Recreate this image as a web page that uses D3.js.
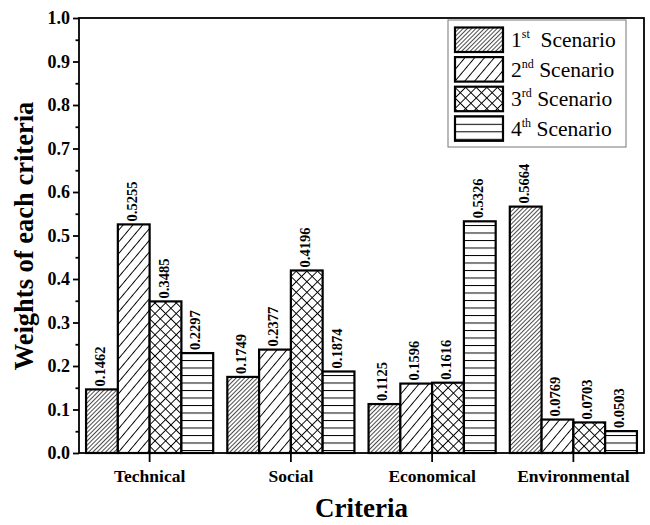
<html>
  <head>
    <meta charset="utf-8">
    <title>Weights of each criteria</title>
    <script src="https://cdn.jsdelivr.net/npm/d3@7"></script>
    <style>
      body { margin: 0; background: #fff; }
      svg text { font-family: "Liberation Serif", "Times New Roman", serif; fill: #000; }
    </style>
  </head>
  <body>
    <svg id="chart" width="650" height="525"></svg>
    <script>
      var criteria = ['Technical', 'Social', 'Economical', 'Environmental'];
      var scenarios = ['1st', '2nd', '3rd', '4th'];
      var scenario1 = [0.1462, 0.1749, 0.1125, 0.5664];
      var scenario2 = [0.5255, 0.2377, 0.1596, 0.0769];
      var scenario3 = [0.3485, 0.4196, 0.1616, 0.0703];
      var scenario4 = [0.2297, 0.1874, 0.5326, 0.0503];
      var yTicks = [0, 0.1, 0.2, 0.3, 0.4, 0.5, 0.6, 0.7, 0.8, 0.9, 1.0];

      var series = [scenario1, scenario2, scenario3, scenario4];
      // plot box (window.top is read-only, so no "top" here)
      var plotL = 79, plotR = 644, plotT = 18, plotB = 453;

      var svg = d3.select('#chart');

      // hatch patterns
      var defs = svg.append('defs');
      function hatch(id, size, angle, sw, cross) {
        var p = defs.append('pattern').attr('id', id)
          .attr('patternUnits', 'userSpaceOnUse')
          .attr('width', size).attr('height', size)
          .attr('patternTransform', 'rotate(' + angle + ')');
        p.append('rect').attr('width', size).attr('height', size).attr('fill', '#fff');
        p.append('line').attr('x1', 0).attr('y1', 0).attr('x2', 0).attr('y2', size)
          .attr('stroke', '#000').attr('stroke-width', sw);
        if (cross) {
          p.append('line').attr('x1', 0).attr('y1', 0).attr('x2', size).attr('y2', 0)
            .attr('stroke', '#000').attr('stroke-width', sw);
        }
      }
      hatch('p0', 3, 45, 1.4, false);
      hatch('p1', 7.5, 40, 1.9, false);
      hatch('p2', 7.5, 45, 1.9, true);
      hatch('p3', 7.5, 90, 2, false);

      var x0 = d3.scaleBand().domain(criteria).range([plotL, plotR])
        .paddingInner(0.1).paddingOuter(0.05);
      var x1 = d3.scaleBand().domain(d3.range(4)).range([0, x0.bandwidth()]);
      var y = d3.scaleLinear().domain([0, 1]).range([plotB, plotT]);

      // bars
      var groups = svg.selectAll('g.crit').data(criteria).enter().append('g')
        .attr('class', 'crit')
        .attr('transform', function(d) { return 'translate(' + x0(d) + ',0)'; });

      groups.selectAll('rect').data(function(d, i) {
          return series.map(function(s, k) { return {k: k, v: s[i]}; });
        }).enter().append('rect')
        .attr('x', function(d) { return x1(d.k); })
        .attr('y', function(d) { return y(d.v); })
        .attr('width', x1.bandwidth())
        .attr('height', function(d) { return plotB - y(d.v); })
        .attr('fill', function(d) { return 'url(#p' + d.k + ')'; })
        .attr('stroke', '#000').attr('stroke-width', 2.2);

      groups.selectAll('text.val').data(function(d, i) {
          return series.map(function(s, k) { return {k: k, v: s[i]}; });
        }).enter().append('text').attr('class', 'val')
        .attr('transform', function(d) {
          return 'translate(' + (x1(d.k) + x1.bandwidth() / 2 + 3) + ',' + (y(d.v) - 3) + ') rotate(-90)';
        })
        .attr('font-size', 14.5).attr('font-weight', 'bold')
        .text(function(d) { return d.v.toFixed(4); });

      // frame
      svg.append('rect').attr('x', plotL).attr('y', plotT)
        .attr('width', plotR - plotL).attr('height', plotB - plotT)
        .attr('fill', 'none').attr('stroke', '#000').attr('stroke-width', 1.8);

      // y axis
      var yAxis = svg.append('g').attr('transform', 'translate(' + plotL + ',0)')
        .call(d3.axisLeft(y).tickValues(yTicks).tickFormat(d3.format('.1f')).tickSize(6).tickPadding(3));
      yAxis.select('.domain').remove();
      yAxis.selectAll('line').attr('stroke-width', 1.8);
      yAxis.selectAll('text').attr('font-size', 18).attr('font-weight', 'bold')
        .attr('font-family', '"Liberation Serif", "Times New Roman", serif');
      var minor = svg.append('g').attr('transform', 'translate(' + plotL + ',0)')
        .call(d3.axisLeft(y).tickValues(d3.range(0.05, 1, 0.1)).tickFormat('').tickSize(3.5));
      minor.select('.domain').remove();
      minor.selectAll('line').attr('stroke-width', 1.8);

      // x axis
      var xAxis = svg.append('g').attr('transform', 'translate(0,' + plotB + ')')
        .call(d3.axisBottom(x0).tickSize(9).tickPadding(8));
      xAxis.select('.domain').remove();
      xAxis.selectAll('line').attr('stroke-width', 1.8);
      xAxis.selectAll('text').attr('font-size', 17.5).attr('font-weight', 'bold')
        .attr('font-family', '"Liberation Serif", "Times New Roman", serif');

      // axis titles
      svg.append('text').attr('x', (plotL + plotR) / 2).attr('y', 517)
        .attr('text-anchor', 'middle').attr('font-size', 27).attr('font-weight', 'bold')
        .text('Criteria');
      svg.append('text').attr('transform', 'translate(33,236) rotate(-90)')
        .attr('text-anchor', 'middle').attr('font-size', 26.5).attr('font-weight', 'bold')
        .text('Weights of each criteria');

      // legend
      var legend = svg.append('g');
      legend.append('rect').attr('x', 448).attr('y', 20).attr('width', 178).attr('height', 127)
        .attr('fill', '#fff').attr('stroke', '#777').attr('stroke-width', 1);
      var rows = legend.selectAll('g.row').data(scenarios).enter().append('g')
        .attr('transform', function(d, i) { return 'translate(455,' + (27.5 + i * 29.6) + ')'; });
      rows.append('rect').attr('width', 48).attr('height', 24.5)
        .attr('fill', function(d, i) { return 'url(#p' + i + ')'; })
        .attr('stroke', '#000').attr('stroke-width', 2.2);
      var lt = rows.append('text').attr('x', 56).attr('y', 19.5).attr('font-size', 21.5);
      lt.append('tspan').text(function(d) { return d.charAt(0); });
      lt.append('tspan').attr('font-size', 12).attr('dy', -9)
        .text(function(d) { return d.slice(1); });
      lt.append('tspan').attr('dy', 9)
        .text(function(d, i) { return (i === 0 ? '\u00a0 ' : ' ') + 'Scenario'; });
    </script>
  </body>
</html>
